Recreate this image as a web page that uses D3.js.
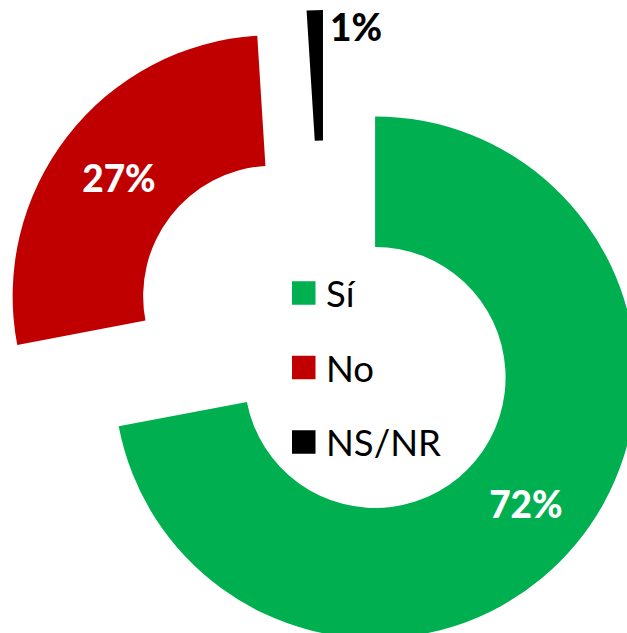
<!DOCTYPE html>
<html>
<head>
<meta charset="utf-8">
<script src="https://cdn.jsdelivr.net/npm/d3@7"></script>
<style>
  html, body { margin: 0; padding: 0; background: #fff; }
  svg { display: block; }
</style>
</head>
<body>
<svg id="chart" width="627" height="633"></svg>
<script>
// ---- data ----
const categories = ["Sí", "No", "NS/NR"];
const values = [72, 27, 1];
const valueLabels = ["72%", "27%", "1%"];
const colors = ["#00B050", "#C00000", "#000000"];

// ---- layout ----
const W = 627, H = 633;
const cx = 325, cy = 336;
const outerR = 261, innerR = 130.5;
const explode = 65;

const svg = d3.select("#chart");
const g = svg.append("g").attr("transform", `translate(${cx},${cy})`);

const pie = d3.pie().sort(null).value(d => d.value);
const arcs = pie(categories.map((c, i) => ({ cat: c, value: values[i], label: valueLabels[i], color: colors[i] })));
const arc = d3.arc().innerRadius(innerR).outerRadius(outerR);

function offset(d) {
  const a = (d.startAngle + d.endAngle) / 2;
  return [Math.sin(a) * explode, -Math.cos(a) * explode];
}

const slices = g.selectAll("g.slice").data(arcs).enter().append("g")
  .attr("class", "slice")
  .attr("transform", d => { const o = offset(d); return `translate(${o[0]},${o[1]})`; });

slices.append("path").attr("d", arc).attr("fill", d => d.data.color);

// inside labels (large slices)
slices.filter(d => d.data.value >= 5).append("text")
  .attr("x", d => arc.centroid(d)[0])
  .attr("y", d => arc.centroid(d)[1] + 1)
  .attr("text-anchor", "middle")
  .attr("dominant-baseline", "central")
  .attr("font-family", "Lato, 'Open Sans', sans-serif")
  .attr("font-weight", "900")
  .attr("font-size", 37)
  .attr("fill", "#fff")
  .text(d => d.data.label);

// outside label for small slice
slices.filter(d => d.data.value < 5).append("text")
  .attr("x", d => Math.sin(d.endAngle) * outerR + 7)
  .attr("y", d => -Math.cos(d.endAngle) * outerR + 31)
  .attr("text-anchor", "start")
  .attr("font-family", "Lato, 'Open Sans', sans-serif")
  .attr("font-weight", "900")
  .attr("font-size", 37)
  .attr("fill", "#000")
  .text(d => d.data.label);

// ---- legend ----
const legX = 292, legY0 = 293, legStep = 74.5, sq = 23.5;
const leg = svg.append("g");
const items = leg.selectAll("g").data(categories).enter().append("g")
  .attr("transform", (d, i) => `translate(${legX},${legY0 + i * legStep})`);
items.append("rect")
  .attr("x", 0).attr("y", -sq / 2).attr("width", sq).attr("height", sq)
  .attr("fill", (d, i) => colors[i]);
items.append("text")
  .attr("x", 34).attr("y", 0)
  .attr("dominant-baseline", "central")
  .attr("font-family", "Lato, 'Open Sans', sans-serif")
  .attr("font-size", 36.5)
  .attr("fill", "#000")
  .text(d => d);
</script>
</body>
</html>
